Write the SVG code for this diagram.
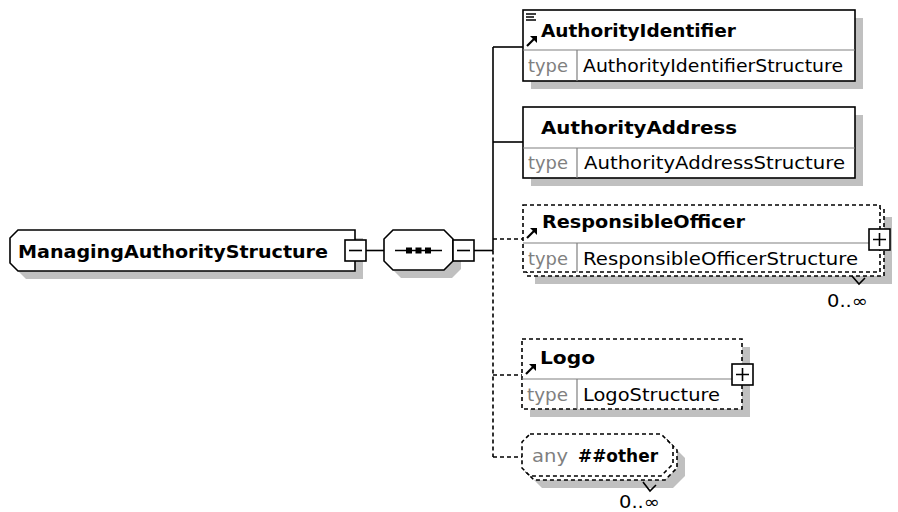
<svg xmlns="http://www.w3.org/2000/svg" width="898" height="512" viewBox="0 0 898 512">
<style>
.bg{fill:#fff}
.sh{fill:#c0c0c0;stroke:none}
.bx{fill:#fff;stroke:#000;stroke-width:1.6}
.dbx{fill:#fff;stroke:#000;stroke-width:1.6;stroke-dasharray:4 3}
.div{stroke:#808080;stroke-width:1.2;fill:none}
.ln{stroke:#000;stroke-width:1.6;fill:none}
.dl{stroke:#000;stroke-width:1.6;fill:none;stroke-dasharray:4 3}
.nm{font-family:"DejaVu Sans","Liberation Sans",sans-serif;font-weight:bold;font-size:18px;fill:#000}
.tx{font-family:"DejaVu Sans","Liberation Sans",sans-serif;font-size:17px;fill:#000}
.gy{font-family:"DejaVu Sans","Liberation Sans",sans-serif;font-size:17px;fill:#808080}
.pm{fill:#fff;stroke:#000;stroke-width:1.6}
</style>
<defs>
<g id="arrow"><path d="M0,10 L8,2" stroke="#000" stroke-width="2.2" fill="none"/><path d="M3,0 L10,0 L10,7 Z" fill="#000"/></g>
</defs>
<rect class="bg" x="0" y="0" width="898" height="512"/>

<g id="connectors">
<path class="ln" d="M366,250.5 H384"/>
<path class="ln" d="M474,250.5 H493"/>
<path class="ln" d="M493,47 V250.5"/>
<path class="ln" d="M493,47 H523"/>
<path class="ln" d="M493,142 H523"/>
<path class="dl" d="M493,250.5 V457"/>
<path class="dl" d="M493,239 H523"/>
<path class="dl" d="M493,375 H522"/>
<path class="dl" d="M493,457 H522"/>
</g>

<g id="ManagingAuthorityStructure">
<path class="sh" d="M26,238 L363,238 L363,279 L26,279 L18,271 L18,246 Z"/>
<path class="bx" d="M18,230 L355,230 L355,271 L18,271 L10,263 L10,238 Z"/>
<text class="nm" x="18" y="258" textLength="310" lengthAdjust="spacingAndGlyphs">ManagingAuthorityStructure</text>
<rect class="pm" x="345" y="240" width="21" height="21"/>
<path class="ln" d="M349,250.5 H362"/>
</g>

<g id="sequence">
<path class="sh" d="M401,238 L452,238 L461,247 L461,269 L452,278 L401,278 L392,269 L392,247 Z"/>
<path class="bx" d="M393,230 L444,230 L453,239 L453,261 L444,270 L393,270 L384,261 L384,239 Z"/>
<path class="ln" d="M395,250.5 H442"/>
<rect x="406" y="247.5" width="6" height="6" fill="#000"/>
<rect x="415.5" y="247.5" width="6" height="6" fill="#000"/>
<rect x="425" y="247.5" width="6" height="6" fill="#000"/>
<rect class="pm" x="453" y="240" width="21" height="21"/>
<path class="ln" d="M457,250.5 H470"/>
</g>

<g id="AuthorityIdentifier">
<rect class="sh" x="531" y="18" width="332" height="71"/>
<rect class="bx" x="523" y="10" width="332" height="71"/>
<path class="div" d="M523,50 H855 M577,50 V81"/>
<path d="M526,14 H536 M526,17 H534 M526,20 H536" stroke="#000" stroke-width="1.6"/>
<use href="#arrow" x="527" y="36"/>
<text class="nm" x="541" y="37" textLength="195" lengthAdjust="spacingAndGlyphs">AuthorityIdentifier</text>
<text class="gy" x="528" y="72" textLength="40" lengthAdjust="spacingAndGlyphs">type</text>
<text class="tx" x="583" y="72" textLength="260" lengthAdjust="spacingAndGlyphs">AuthorityIdentifierStructure</text>
</g>

<g id="AuthorityAddress">
<rect class="sh" x="531" y="115" width="332" height="71"/>
<rect class="bx" x="523" y="107" width="332" height="71"/>
<path class="div" d="M523,148 H855 M577,148 V178"/>
<text class="nm" x="541" y="134" textLength="196" lengthAdjust="spacingAndGlyphs">AuthorityAddress</text>
<text class="gy" x="528" y="169" textLength="40" lengthAdjust="spacingAndGlyphs">type</text>
<text class="tx" x="584" y="169" textLength="261" lengthAdjust="spacingAndGlyphs">AuthorityAddressStructure</text>
</g>

<g id="ResponsibleOfficer">
<rect class="sh" x="535" y="217" width="357" height="67"/>
<rect class="dbx" x="527" y="209" width="357" height="67"/>
<rect class="dbx" x="523" y="205" width="357" height="67"/>
<path class="div" d="M523,243 H880 M577,243 V272"/>
<use href="#arrow" x="527" y="228"/>
<text class="nm" x="542" y="228" textLength="203" lengthAdjust="spacingAndGlyphs">ResponsibleOfficer</text>
<text class="gy" x="528" y="265" textLength="40" lengthAdjust="spacingAndGlyphs">type</text>
<text class="tx" x="583" y="265" textLength="275" lengthAdjust="spacingAndGlyphs">ResponsibleOfficerStructure</text>
<rect class="pm" x="869" y="229" width="21" height="21"/>
<path class="ln" d="M873,239.5 H886 M879.5,233 V246"/>
<path class="ln" d="M852,276 L859,284 L865,278" stroke-width="1.2"/>
<text class="tx" x="827" y="307" textLength="41" lengthAdjust="spacingAndGlyphs">0..∞</text>
</g>

<g id="Logo">
<rect class="sh" x="530" y="347" width="220" height="70"/>
<rect class="dbx" x="522" y="339" width="220" height="70"/>
<path class="div" d="M522,379 H742 M577,379 V409"/>
<use href="#arrow" x="526" y="364"/>
<text class="nm" x="540" y="364" textLength="55" lengthAdjust="spacingAndGlyphs">Logo</text>
<text class="gy" x="527" y="401" textLength="41" lengthAdjust="spacingAndGlyphs">type</text>
<text class="tx" x="583" y="401" textLength="137" lengthAdjust="spacingAndGlyphs">LogoStructure</text>
<rect class="pm" x="732" y="364" width="21" height="21"/>
<path class="ln" d="M736,374.5 H749 M742.5,368 V381"/>
</g>

<g id="any">
<path class="sh" d="M542,446 L673,446 L685,458 L685,476 L673,488 L542,488 L534,480 L534,454 Z"/>
<path class="dbx" d="M534,438 L665,438 L677,450 L677,468 L665,480 L534,480 L526,472 L526,446 Z"/>
<path class="dbx" d="M530,434 L661,434 L673,446 L673,464 L661,476 L530,476 L522,468 L522,442 Z"/>
<text class="gy" x="532" y="462" textLength="36" lengthAdjust="spacingAndGlyphs">any</text>
<text class="nm" x="578" y="462" textLength="80" lengthAdjust="spacingAndGlyphs">##other</text>
<path class="ln" d="M643,482 L650,491 L656,485" stroke-width="1.2"/>
<text class="tx" x="619" y="508" textLength="41" lengthAdjust="spacingAndGlyphs">0..∞</text>
</g>
</svg>
